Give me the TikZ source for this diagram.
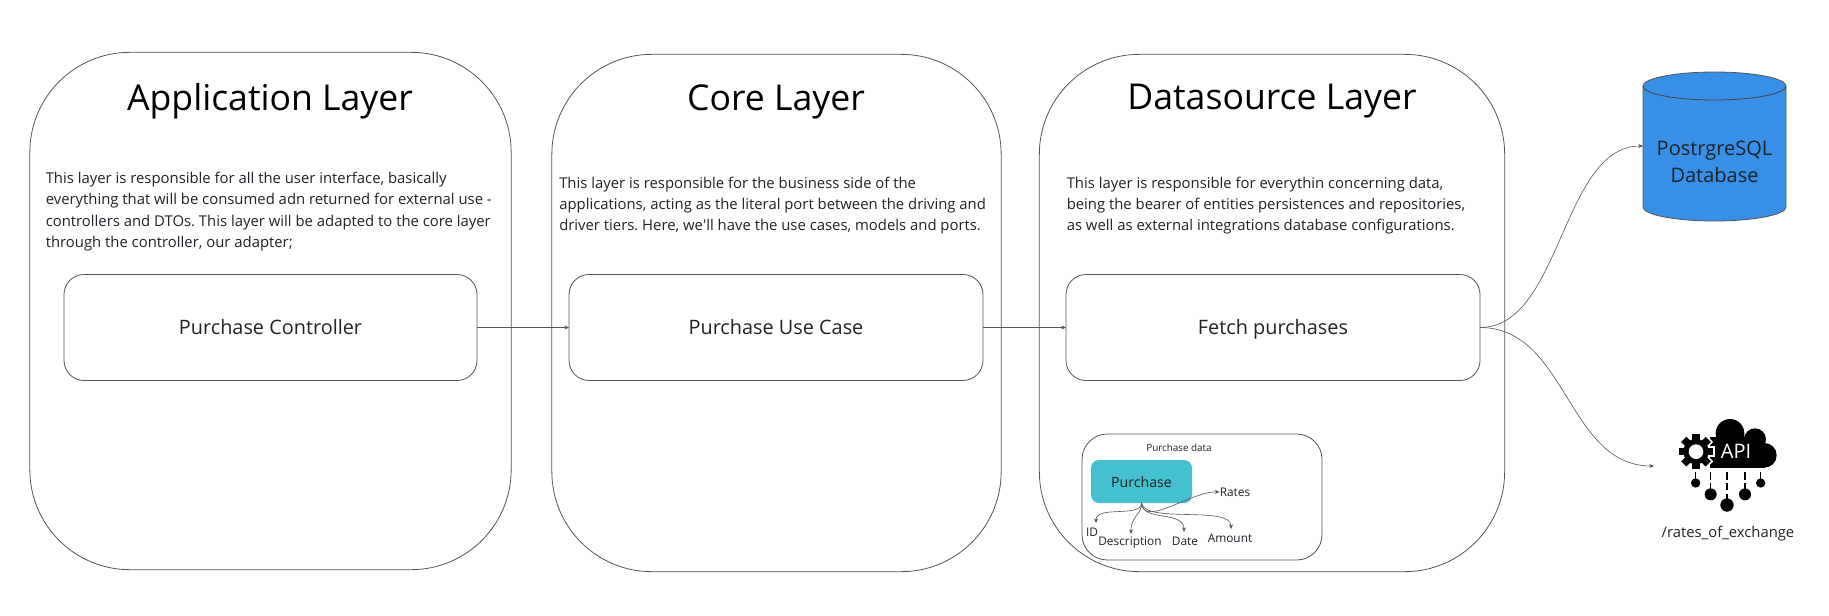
\documentclass[tikz,border=0pt]{standalone}
\usepackage{fontspec}
\setmainfont{Open Sans}
\newfontfamily\plainquote{Open Sans}
\usetikzlibrary{arrows.meta}
\definecolor{ink}{HTML}{1F2328}
\definecolor{linegray}{HTML}{555555}
\definecolor{teal}{HTML}{45C0CF}
\definecolor{dbblue}{HTML}{378FE8}
\frenchspacing
\tikzset{
 x=0.75pt,y=-0.75pt,
 layer/.style={draw=linegray,line width=0.6pt,rounded corners=75pt,inner sep=0pt,outer sep=0pt,fill=white},
 inner box/.style={draw=linegray,line width=0.6pt,rounded corners=15pt,inner sep=0pt,outer sep=0pt,fill=white,text=ink,text height=14pt,text depth=3.5pt,font=\fontsize{14.9}{18}\selectfont},
 title/.style={text=black,font=\fontsize{26.7}{32}\selectfont,inner sep=0pt},
 para/.style={anchor=north west,align=left,inner sep=0pt,text=ink,font=\fontsize{11.15}{15.75}\selectfont},
 link/.style={draw=linegray,line width=0.45pt,-{Stealth[length=3.5pt,width=3pt]}},
 small/.style={inner sep=0pt,text=ink,font=\fontsize{7.4}{9}\selectfont},
 attr/.style={inner sep=0pt,text=ink,font=\fontsize{8.9}{11}\selectfont},
}
\begin{document}
\begin{tikzpicture}
\path[use as bounding box,fill=white] (0,0) rectangle (1829,615);
% layers
\node[layer,minimum width=361pt,minimum height=388pt] (applayer) at (270.5,311) {};
\node[layer,minimum width=337pt,minimum height=388pt] (corelayer) at (776.5,313) {};
\node[layer,minimum width=349pt,minimum height=388pt] (datalayer) at (1272,313) {};
\node[title] (apptitle) at (270,101.5) {Application Layer};
\node[title] (coretitle) at (776,101.5) {Core Layer};
\node[title] (datatitle) at (1272,101.5) {Datasource Layer};
\node[para,font=\fontsize{11.15}{16.1}\selectfont] (apptext) at (45.5,171.5) {This layer is responsible for all the user interface, basically\\everything that will be consumed adn returned for external use -\\controllers and DTOs. This layer will be adapted to the core layer\\through the controller, our adapter;};
\node[para] (coretext) at (559,176.5) {This layer is responsible for the business side of the\\applications, acting as the literal port between the driving and\\driver tiers. Here, we{\plainquote '}ll have the use cases, models and ports.};
\node[para] (datatext) at (1066.5,176.5) {This layer is responsible for everythin concerning data,\\being the bearer of entities persistences and repositories,\\as well as external integrations database configurations.};
% boxes
\node[inner box,minimum width=309.75pt,minimum height=79.5pt] (controller) at (270.5,327.5) {Purchase Controller};
\node[inner box,minimum width=310.5pt,minimum height=79.5pt] (usecase) at (776,327.5) {Purchase Use Case};
\node[inner box,minimum width=310.5pt,minimum height=79.5pt] (fetch) at (1273,327.5) {Fetch purchases};
\node[draw=linegray,line width=0.6pt,rounded corners=19pt,minimum width=180pt,minimum height=94.5pt,inner sep=0pt,outer sep=0pt] (databox) at (1202,497) {};
\node[small] (datatitle2) at (1179,448) {Purchase data};
\node[fill=teal,rounded corners=6pt,minimum width=75.75pt,minimum height=32.25pt,inner sep=0pt,outer sep=0pt,text=ink,text height=10.5pt,text depth=2pt,font=\fontsize{10.6}{13}\selectfont] (purchase) at (1141.5,481.5) {Purchase};
% purchase attributes
\node[attr] (idl) at (1092,532) {ID};
\node[attr] (descl) at (1130,543) {Description};
\node[attr] (datel) at (1185,541) {Date};
\node[attr] (amountl) at (1230,538) {Amount};
\node[attr] (ratesl) at (1235,492) {Rates};
\coordinate (idin) at (1096,523);
\coordinate (descin) at (1131,534);
\coordinate (datein) at (1184,532);
\coordinate (amountin) at (1231,529);
\draw[link] (purchase.south) .. controls (1142,518) and (1096,505) .. (idin);
\draw[link] (purchase.south) .. controls (1142,515) and (1131,515) .. (descin);
\draw[link] (purchase.south) .. controls (1142,522) and (1184,510) .. (datein);
\draw[link] (purchase.south) .. controls (1145,524) and (1231,505) .. (amountin);
\draw[link] (purchase.south) .. controls (1143,528) and (1192,491) .. (ratesl.west);
% links
\draw[link] (controller.east) -- (usecase.west);
\draw[link] (usecase.east) -- (fetch.west);
% database
\draw[draw=linegray,line width=0.6pt,fill=dbblue] (1643,86) -- (1643,207) arc[start angle=180,end angle=0,x radius=71.5,y radius=14] -- (1786,86) arc[start angle=0,end angle=-180,x radius=71.5,y radius=14] -- cycle;
\draw[draw=linegray!80!black,line width=0.6pt] (1643,86) arc[start angle=180,end angle=0,x radius=71.5,y radius=14];
\node[minimum width=107.25pt,minimum height=111.75pt,inner sep=0pt,outer sep=0pt,align=center,text=ink,font=\fontsize{15}{20.25}\selectfont,yshift=-11.5pt] (dbtext) at (1714.5,146.5) {PostrgreSQL\\Database};
\coordinate (apiin) at (1654,466);
\coordinate (dbin) at (1643,146);
\draw[link] (fetch.east) .. controls (1561.5,327.5) and (1561.5,146) .. (dbin);
\draw[link] (fetch.east) .. controls (1567,327.5) and (1567,466) .. (apiin);
% API icon
\begin{scope}[shift={(1480,400)},x=0.25pt,y=-0.25pt]
 \fill[black] (750,100) circle (43) (825,118) circle (33) (853,166) circle (37);
 \fill[black] (690,110) rectangle (855,203);
 \foreach \a in {0,45,...,315}{
  \fill[white,rotate around={\a:(648,155)}] (632,98) rectangle (664,125);
 }
 \fill[white] (648,155) circle (41);
 \foreach \a in {0,45,...,315}{
  \fill[black,rotate around={\a:(648,155)}] (637,103) rectangle (659,125);
 }
 \fill[black] (648,155) circle (38);
 \fill[white] (648,155) circle (22);
 \node[text=white,inner sep=0pt,font=\fontsize{15}{18}\selectfont] (apilabel) at (768,155) {API};
 \foreach \px/\ya/\r in {647/249/14,692/283/18,741/315/20,795/283/18,842/249/14}{
  \fill[black] (\px,\ya) circle (\r);
  \draw[black,line width=0.9pt,dash pattern=on 5.5pt off 2.5pt] (\px,217) -- (\px,\ya);
 }
\end{scope}
\node[inner sep=0pt,text=ink,font=\fontsize{11.1}{14}\selectfont] (apiname) at (1728,534) {/rates\_of\_exchange};
\end{tikzpicture}
\end{document}
